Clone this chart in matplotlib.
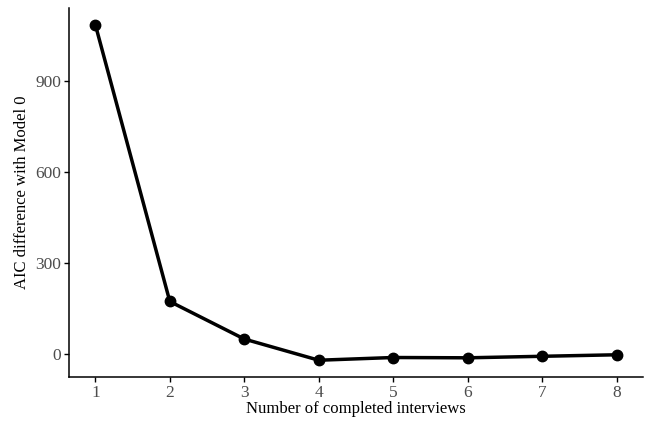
import matplotlib
matplotlib.use("Agg")
import matplotlib.pyplot as plt

interviews = [1, 2, 3, 4, 5, 6, 7, 8]
aic_diff = [1087, 173, 49, -21, -12, -13, -8, -3]
yticks = [0, 300, 600, 900]

plt.rcParams['font.family'] = ['Liberation Serif', 'DejaVu Serif']

fig = plt.figure(figsize=(6.49, 4.21), dpi=100)
W, H = 649, 421
ax = fig.add_axes([69.3 / W, 1 - 377 / H, (642.7 - 69.3) / W, (377 - 8) / H])

ax.plot(interviews, aic_diff, color='black', linewidth=2.5, marker='o',
        markersize=7.5, solid_capstyle='round', zorder=3)

ax.set_xlim(0.65, 8.35)
ymin, ymax = min(aic_diff), max(aic_diff)
pad = (ymax - ymin) * 0.05
ax.set_ylim(ymin - pad, ymax + pad)
ax.set_xticks(interviews)
ax.set_yticks(yticks)

for s in ['top', 'right']:
    ax.spines[s].set_visible(False)
for s in ['left', 'bottom']:
    ax.spines[s].set_linewidth(1.1)
    ax.spines[s].set_color('black')

ax.tick_params(axis='both', direction='out', length=3.5, width=1.0, color='black',
               labelcolor='#4D4D4D', labelsize=12.5, pad=2.5)

ax.set_xlabel('Number of completed interviews', fontsize=12, color='black', labelpad=0)
ax.set_ylabel('AIC difference with Model 0', fontsize=12, color='black', labelpad=4)

fig.savefig('out.png', dpi=100)
